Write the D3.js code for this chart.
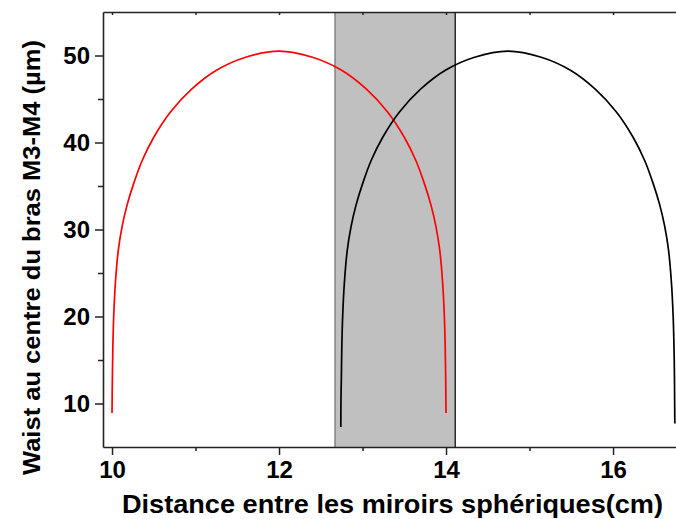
<!DOCTYPE html>
<html><head><meta charset="utf-8">
<script src="https://cdn.jsdelivr.net/npm/d3@7/dist/d3.min.js"></script>
<style>body{margin:0;background:#fff}svg{display:block}text{font-family:"Liberation Sans",Arial,sans-serif;font-weight:bold;fill:#000}</style>
</head><body><svg id="c" width="676" height="519"></svg>
<script>
// Data
const redX = [10.000, 10.004, 10.010, 10.020, 10.040, 10.075, 10.12, 10.18, 10.26, 10.36, 10.50, 10.70, 10.95, 11.25, 11.60, 12.00, 12.40, 12.75, 13.05, 13.30, 13.50, 13.64, 13.74, 13.82, 13.88, 13.925, 13.960, 13.980, 13.990, 13.996, 14.000];
const redY = [8.9, 12.7, 16.5, 20.0, 23.8, 27.6, 30.3, 32.8, 35.3, 37.9, 40.6, 43.5, 46.1, 48.3, 49.8, 50.5, 49.8, 48.3, 46.1, 43.5, 40.6, 37.9, 35.3, 32.8, 30.3, 27.6, 23.8, 20.0, 16.5, 12.7, 8.9];
const blackX = [12.740, 12.742, 12.746, 12.752, 12.762, 12.782, 12.817, 12.862, 12.922, 13.002, 13.102, 13.242, 13.442, 13.692, 13.992, 14.342, 14.740, 15.140, 15.490, 15.790, 16.040, 16.240, 16.380, 16.480, 16.560, 16.620, 16.665, 16.700, 16.720, 16.730, 16.736, 16.738, 16.740];
const blackY = [7.3, 10.5, 12.7, 16.5, 20.0, 23.8, 27.6, 30.3, 32.8, 35.3, 37.9, 40.6, 43.5, 46.1, 48.3, 49.8, 50.5, 49.8, 48.3, 46.1, 43.5, 40.6, 37.9, 35.3, 32.8, 30.3, 27.6, 23.8, 20.0, 16.5, 12.7, 10.0, 7.7];
const bandRange = [12.67, 14.11];
const xDomain = [9.892, 16.754];
const yDomain = [5, 55];
const xMajor = [10, 12, 14, 16];
const xMinor = [11, 13, 15];
const yMajor = [10, 20, 30, 40, 50];
const yMinor = [15, 25, 35, 45];
const xTitle = "Distance entre les miroirs sphériques(cm)";
const yTitle = "Waist au centre du bras M3-M4 (µm)";

const L = 103, R = 676, T = 12, B = 447;
const svg = d3.select("#c");
const x = d3.scaleLinear().domain(xDomain).range([L, R]);
const y = d3.scaleLinear().domain(yDomain).range([B, T]);

// band
svg.append("rect").attr("x", x(bandRange[0])).attr("y", T)
  .attr("width", x(bandRange[1]) - x(bandRange[0])).attr("height", B - T)
  .attr("fill", "#c0c0c0");
svg.append("line").attr("x1", x(bandRange[0])).attr("x2", x(bandRange[0])).attr("y1", T).attr("y2", B)
  .attr("stroke", "#6e6e6e").attr("stroke-width", 1.2);
svg.append("line").attr("x1", x(bandRange[1])).attr("x2", x(bandRange[1])).attr("y1", T).attr("y2", B)
  .attr("stroke", "#000").attr("stroke-width", 1.2);

// curves
const line = d3.line().x(d => x(d[0])).y(d => y(d[1])).curve(d3.curveCatmullRom.alpha(0.5));
svg.append("path").datum(redX.map((v, i) => [v, redY[i]])).attr("d", line)
  .attr("fill", "none").attr("stroke", "#ff0000").attr("stroke-width", 1.7);
svg.append("path").datum(blackX.map((v, i) => [v, blackY[i]])).attr("d", line)
  .attr("fill", "none").attr("stroke", "#000").attr("stroke-width", 1.7);

function styleAxis(g) {
  g.selectAll("path.domain").attr("stroke", "#222").attr("stroke-width", 1.6);
  g.selectAll(".tick line").attr("stroke", "#222").attr("stroke-width", 1.5);
  g.selectAll("text").attr("font-size", 24).attr("font-family", "Liberation Sans, Arial, sans-serif").attr("font-weight", "bold").attr("fill", "#000");
}

// bottom axis
const gx = svg.append("g").attr("transform", `translate(0,${B})`)
  .call(d3.axisBottom(x).tickValues(xMajor).tickFormat(d3.format("d")).tickSizeInner(8).tickSizeOuter(0).tickPadding(6));
styleAxis(gx);
svg.append("g").attr("transform", `translate(0,${B})`)
  .call(d3.axisBottom(x).tickValues(xMinor).tickFormat("").tickSizeInner(4).tickSizeOuter(0))
  .call(g => { g.select("path.domain").remove(); styleAxis(g); });

// top axis (inward ticks)
const gt = svg.append("g").attr("transform", `translate(0,${T})`)
  .call(d3.axisTop(x).tickValues(xMajor.concat(xMinor)).tickFormat("").tickSizeInner(-3).tickSizeOuter(0));
styleAxis(gt);

// left axis
const gy = svg.append("g").attr("transform", `translate(${L},0)`)
  .call(d3.axisLeft(y).tickValues(yMajor).tickFormat(d3.format("d")).tickSizeInner(8).tickSizeOuter(0).tickPadding(5));
styleAxis(gy);
svg.append("g").attr("transform", `translate(${L},0)`)
  .call(d3.axisLeft(y).tickValues(yMinor).tickFormat("").tickSizeInner(5).tickSizeOuter(0))
  .call(g => { g.select("path.domain").remove(); styleAxis(g); });

// titles
svg.append("text").attr("x", (122 + 663) / 2).attr("y", 513).attr("text-anchor", "middle")
  .attr("font-size", 25).attr("textLength", 541).attr("lengthAdjust", "spacingAndGlyphs").text(xTitle);
svg.append("text").attr("transform", "translate(40,257.5) rotate(-90)").attr("text-anchor", "middle")
  .attr("font-size", 24).attr("textLength", 435).attr("lengthAdjust", "spacingAndGlyphs").text(yTitle);
</script></body></html>
